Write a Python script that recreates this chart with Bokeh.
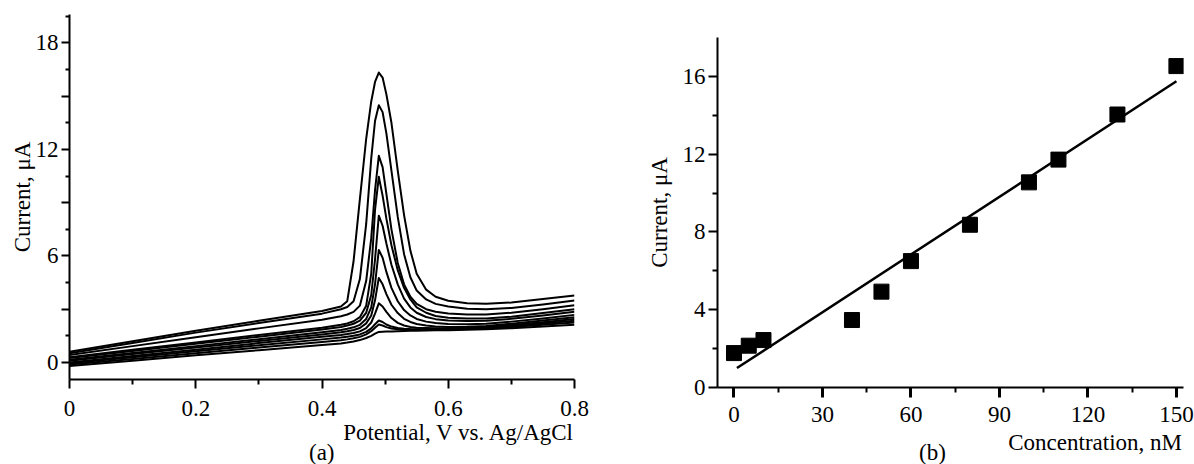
from bokeh.plotting import figure
from bokeh.layouts import row, column
from bokeh.models import Range1d, FixedTicker, CustomJSTickFormatter, Div
from bokeh.embed import file_html
from bokeh.resources import INLINE

FONT = "Liberation Serif"
FS = "23px"

# ---------------- data: panel (a) voltammograms ----------------
potential = [0.0, 0.1, 0.2, 0.3, 0.4, 0.43, 0.44, 0.45, 0.46, 0.47, 0.478, 0.484, 0.49,
             0.496, 0.502, 0.51, 0.52, 0.53, 0.54, 0.55, 0.565, 0.58, 0.6, 0.63, 0.66,
             0.7, 0.75, 0.8]

i_150 = [0.60, 1.20, 1.78, 2.35, 2.90, 3.15, 3.45, 5.70, 9.20, 12.60, 14.70, 15.80, 16.33,
         16.05, 15.10, 13.50, 10.80, 8.30, 6.30, 5.00, 4.10, 3.70, 3.48, 3.33, 3.30,
         3.38, 3.57, 3.77]
i_130 = [0.52, 1.10, 1.68, 2.22, 2.75, 3.00, 3.12, 3.45, 4.70, 7.80, 11.50, 13.60, 14.49,
         14.10, 12.90, 10.80, 8.20, 6.10, 4.80, 4.05, 3.55, 3.30, 3.15, 3.03, 3.00,
         3.07, 3.27, 3.49]
i_110 = [0.42, 0.92, 1.42, 1.92, 2.40, 2.60, 2.70, 2.85, 3.20, 4.60, 7.00, 9.70, 11.64,
         11.00, 9.50, 7.50, 5.60, 4.40, 3.70, 3.30, 3.00, 2.86, 2.76, 2.70, 2.70,
         2.80, 3.00, 3.22]
i_100 = [0.30, 0.72, 1.13, 1.55, 1.95, 2.12, 2.20, 2.32, 2.55, 3.20, 5.00, 8.60, 10.46,
         9.40, 8.10, 6.60, 5.20, 4.20, 3.55, 3.10, 2.80, 2.62, 2.52, 2.47, 2.48,
         2.58, 2.78, 3.00]
i_80 = [0.25, 0.65, 1.05, 1.45, 1.85, 2.00, 2.08, 2.18, 2.36, 2.80, 3.80, 5.80, 8.27,
        7.70, 6.70, 5.50, 4.40, 3.60, 3.10, 2.80, 2.56, 2.44, 2.36, 2.33, 2.35,
        2.46, 2.65, 2.85]
i_60 = [0.15, 0.53, 0.92, 1.31, 1.70, 1.83, 1.90, 1.98, 2.12, 2.45, 3.10, 4.40, 6.34,
        5.90, 5.10, 4.20, 3.45, 2.95, 2.65, 2.45, 2.30, 2.22, 2.16, 2.15, 2.18,
        2.30, 2.48, 2.68]
i_50 = [0.10, 0.47, 0.84, 1.21, 1.58, 1.70, 1.76, 1.83, 1.94, 2.20, 2.65, 3.50, 4.76,
        4.40, 3.85, 3.25, 2.78, 2.46, 2.28, 2.17, 2.08, 2.03, 2.00, 2.01, 2.06,
        2.18, 2.36, 2.55]
i_40 = [0.00, 0.36, 0.72, 1.09, 1.45, 1.55, 1.60, 1.66, 1.75, 1.94, 2.25, 2.75, 3.33,
        3.15, 2.85, 2.50, 2.23, 2.08, 2.00, 1.96, 1.94, 1.93, 1.93, 1.95, 2.00,
        2.11, 2.27, 2.45]
i_10 = [-0.05, 0.29, 0.63, 0.97, 1.30, 1.40, 1.45, 1.50, 1.58, 1.72, 1.92, 2.15, 2.36,
        2.28, 2.14, 2.02, 1.94, 1.90, 1.88, 1.87, 1.87, 1.87, 1.88, 1.90, 1.95,
        2.05, 2.20, 2.35]
i_5 = [-0.12, 0.20, 0.52, 0.84, 1.15, 1.25, 1.30, 1.36, 1.44, 1.58, 1.76, 1.96, 2.14,
       2.08, 1.99, 1.91, 1.87, 1.85, 1.84, 1.84, 1.84, 1.85, 1.86, 1.88, 1.92,
       2.00, 2.12, 2.25]
i_0 = [-0.20, 0.10, 0.40, 0.69, 0.98, 1.07, 1.12, 1.18, 1.26, 1.38, 1.50, 1.62, 1.72,
       1.73, 1.74, 1.75, 1.76, 1.77, 1.78, 1.79, 1.80, 1.81, 1.82, 1.84, 1.87,
       1.93, 2.02, 2.12]

# ---------------- data: panel (b) calibration ----------------
conc = [0, 5, 10, 40, 50, 60, 80, 100, 110, 130, 150]
peak_current = [1.77, 2.15, 2.44, 3.47, 4.93, 6.50, 8.37, 10.55, 11.72, 14.04, 16.53]
fit_conc = [1, 150]
fit_current = [1.0, 15.75]

a_yticks = [0, 3, 6, 9, 12, 15, 18]
a_yminor = [1.5, 4.5, 7.5, 10.5, 13.5, 16.5, 19.5]
a_xticks = [0, 0.2, 0.4, 0.6, 0.8]
a_xminor = [0.1, 0.3, 0.5, 0.7]
b_yticks = [0, 4, 8, 12, 16]
b_yminor = [2, 6, 10, 14]
b_xticks = [0, 30, 60, 90, 120, 150]
b_xminor = [15, 45, 75, 105, 135]

Y_LABEL = "Current, μA"
A_XLABEL = "Potential, V vs. Ag/AgCl"
B_XLABEL = "Concentration, nM"


def style(p):
    p.xgrid.visible = False
    p.ygrid.visible = False
    p.outline_line_color = None
    p.background_fill_color = "white"
    p.border_fill_color = "white"
    for ax in p.axis:
        ax.axis_line_width = 2
        ax.axis_line_color = "black"
        ax.major_tick_line_color = "black"
        ax.minor_tick_line_color = "black"
        ax.major_tick_line_width = 2
        ax.minor_tick_line_width = 2
        ax.major_tick_in = 0
        ax.minor_tick_in = 0
        ax.major_label_text_font = FONT
        ax.major_label_text_font_size = FS
        ax.major_label_text_color = "black"
        ax.axis_label_text_font = FONT
        ax.axis_label_text_font_size = FS
        ax.axis_label_text_font_style = "normal"
        ax.axis_label_text_color = "black"


def text_div(width, height, spans):
    parts = []
    for txt, side, hpos, top in spans:
        parts.append('<span style="position:absolute;%s:%dpx;top:%dpx;white-space:nowrap;">%s</span>'
                     % (side, hpos, top, txt))
    html = ('<div style="position:relative;width:%dpx;height:%dpx;font-family:\'Liberation Serif\';'
            'font-size:23px;line-height:23px;color:black;">%s</div>' % (width, height, "".join(parts)))
    return Div(text=html, width=width, height=height, margin=0)


# ---------------- panel (a) ----------------
p1 = figure(width=600, height=427, x_range=Range1d(0, 0.8), y_range=Range1d(-0.96, 19.6),
            output_backend="svg", toolbar_location=None,
            min_border_left=69, min_border_right=26, min_border_top=14, min_border_bottom=48)
style(p1)
for cur in [i_150, i_130, i_110, i_100, i_80, i_60, i_50, i_40, i_10, i_5, i_0]:
    p1.line(potential, cur, line_color="black", line_width=2, line_join="round")

p1.yaxis.ticker = FixedTicker(ticks=a_yticks, minor_ticks=a_yminor)
p1.yaxis.formatter = CustomJSTickFormatter(code="return (Math.round(tick) % 6 == 0) ? tick.toFixed(0) : '';")
p1.yaxis.major_tick_out = 8
p1.yaxis.minor_tick_out = 4
p1.yaxis.major_label_standoff = 3
p1.yaxis.axis_label = Y_LABEL
p1.yaxis.axis_label_standoff = -2
p1.xaxis.ticker = FixedTicker(ticks=a_xticks, minor_ticks=a_xminor)
p1.xaxis.formatter = CustomJSTickFormatter(code="return tick == 0 ? '0' : tick.toFixed(1);")
p1.xaxis.major_tick_out = 9
p1.xaxis.minor_tick_out = 5
p1.xaxis.major_label_standoff = 12

div_a = text_div(600, 37, [(A_XLABEL, "right", 27, -6), ("(a)", "left", 309, 14)])

# ---------------- panel (b) ----------------
p2 = figure(width=594, height=433, x_range=Range1d(-5.59, 152.4), y_range=Range1d(0, 18),
            output_backend="svg", toolbar_location=None,
            min_border_left=117, min_border_right=11, min_border_top=37, min_border_bottom=46)
style(p2)
p2.line(fit_conc, fit_current, line_color="black", line_width=2.5)
p2.scatter(conc, peak_current, marker="square", size=15, fill_color="black", line_color="black")

p2.yaxis.ticker = FixedTicker(ticks=b_yticks, minor_ticks=b_yminor)
p2.yaxis.formatter = CustomJSTickFormatter(code="return tick.toFixed(0);")
p2.yaxis.major_tick_out = 9
p2.yaxis.minor_tick_out = 5
p2.yaxis.major_label_standoff = 3
p2.yaxis.axis_label = Y_LABEL
p2.yaxis.axis_label_standoff = 8
p2.xaxis.ticker = FixedTicker(ticks=b_xticks, minor_ticks=b_xminor)
p2.xaxis.formatter = CustomJSTickFormatter(code="return tick.toFixed(0);")
p2.xaxis.major_tick_out = 10
p2.xaxis.minor_tick_out = 5
p2.xaxis.major_tick_line_width = 3
p2.xaxis.major_label_standoff = 9

div_b = text_div(594, 31, [(B_XLABEL, "right", 12, -2), ("(b)", "left", 319, 8)])

layout = row(column(p1, div_a, spacing=0), column(p2, div_b, spacing=0), spacing=0)
open("out.html", "w").write(file_html(layout, INLINE))
